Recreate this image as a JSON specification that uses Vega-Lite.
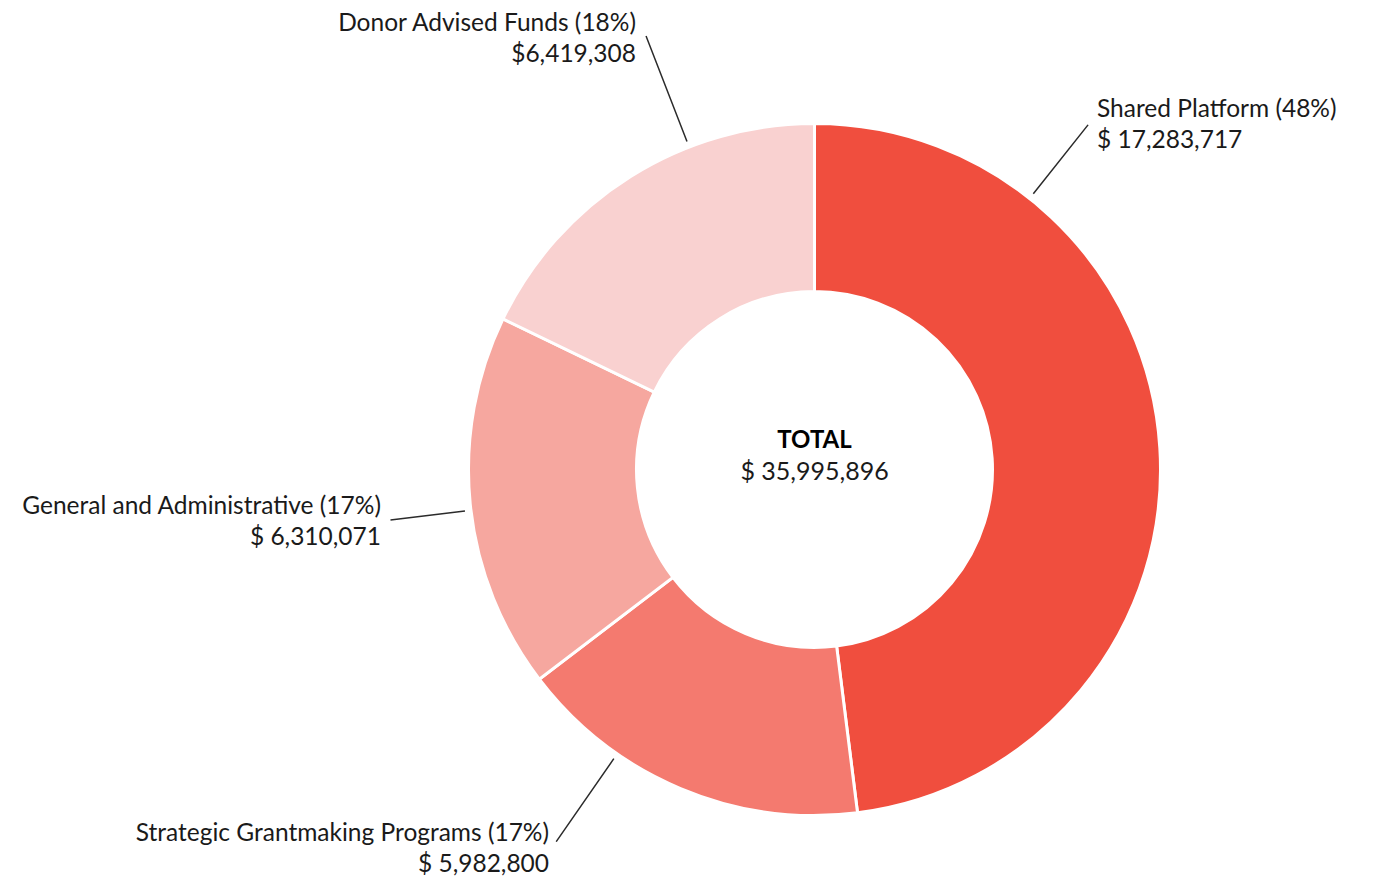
{
  "$schema": "https://vega.github.io/schema/vega-lite/v6.json",
  "width": 1123,
  "height": 825,
  "autosize": {"type": "none"},
  "padding": {"left": 253, "top": 57, "right": 0, "bottom": 0},
  "background": "white",
  "config": {"view": {"stroke": null}, "font": "Lato", "text": {"font": "Lato"}},
  "data": {
    "values": [
      {"category": "Shared Platform", "value": 17283717, "label": "Shared Platform (48%)\n$ 17,283,717"},
      {"category": "Strategic Grantmaking Programs", "value": 5982800, "label": "Strategic Grantmaking Programs (17%)\n$ 5,982,800"},
      {"category": "General and Administrative", "value": 6310071, "label": "General and Administrative (17%)\n$ 6,310,071"},
      {"category": "Donor Advised Funds", "value": 6419308, "label": "Donor Advised Funds (18%)\n$6,419,308"}
    ]
  },
  "transform": [
    {"window": [{"op": "row_number", "as": "order"}]},
    {"stack": "value", "groupby": [], "sort": [{"field": "order", "order": "ascending"}], "as": ["v0", "v1"]}
  ],
  "layer": [
    {
      "mark": {"type": "arc", "radius": 346, "radius2": 178, "stroke": "white", "strokeWidth": 3},
      "encoding": {
        "theta": {"field": "v1", "type": "quantitative", "stack": null},
        "theta2": {"field": "v0"},
        "color": {
          "field": "category",
          "type": "nominal",
          "scale": {
            "domain": ["Shared Platform", "Strategic Grantmaking Programs", "General and Administrative", "Donor Advised Funds"],
            "range": ["#F04E3E", "#F47A6F", "#F6A79F", "#F9D1D0"]
          },
          "legend": null
        }
      }
    },
    {
      "transform": [{"filter": "datum.category === 'Shared Platform'"}],
      "mark": {"type": "arc", "radius": 440, "radius2": 352, "thetaOffset": 0.6709, "theta2Offset": 0.6709, "fill": "transparent", "stroke": "#2b2b2b", "strokeWidth": 1.5},
      "encoding": {"theta": {"field": "v0", "type": "quantitative", "stack": null}, "theta2": {"field": "v0"}}
    },
    {
      "transform": [{"filter": "datum.category === 'Strategic Grantmaking Programs'"}],
      "mark": {"type": "arc", "radius": 453, "radius2": 352, "thetaOffset": 0.7313, "theta2Offset": 0.7313, "fill": "transparent", "stroke": "#2b2b2b", "strokeWidth": 1.5},
      "encoding": {"theta": {"field": "v0", "type": "quantitative", "stack": null}, "theta2": {"field": "v0"}}
    },
    {
      "transform": [{"filter": "datum.category === 'General and Administrative'"}],
      "mark": {"type": "arc", "radius": 427, "radius2": 352, "thetaOffset": 0.5328, "theta2Offset": 0.5328, "fill": "transparent", "stroke": "#2b2b2b", "strokeWidth": 1.5},
      "encoding": {"theta": {"field": "v0", "type": "quantitative", "stack": null}, "theta2": {"field": "v0"}}
    },
    {
      "transform": [{"filter": "datum.category === 'Donor Advised Funds'"}],
      "mark": {"type": "arc", "radius": 465, "radius2": 352, "thetaOffset": 0.7498, "theta2Offset": 0.7498, "fill": "transparent", "stroke": "#2b2b2b", "strokeWidth": 1.5},
      "encoding": {"theta": {"field": "v0", "type": "quantitative", "stack": null}, "theta2": {"field": "v0"}}
    },
    {
      "transform": [{"filter": "datum.category === 'Shared Platform'"}],
      "mark": {"type": "text", "radius": 451.7, "thetaOffset": 0.6757, "align": "left", "baseline": "alphabetic", "fontSize": 24.5, "lineHeight": 31, "lineBreak": "\n", "color": "#1a1a1a"},
      "encoding": {"theta": {"field": "v0", "type": "quantitative", "stack": null}, "text": {"field": "label"}}
    },
    {
      "transform": [{"filter": "datum.category === 'Strategic Grantmaking Programs'"}],
      "mark": {"type": "text", "radius": 456.6, "thetaOffset": 0.7451, "align": "right", "baseline": "alphabetic", "fontSize": 24.5, "lineHeight": 31, "lineBreak": "\n", "color": "#1a1a1a"},
      "encoding": {"theta": {"field": "v0", "type": "quantitative", "stack": null}, "text": {"field": "label"}}
    },
    {
      "transform": [{"filter": "datum.category === 'General and Administrative'"}],
      "mark": {"type": "text", "radius": 435.8, "thetaOffset": 0.5489, "align": "right", "baseline": "alphabetic", "fontSize": 24.5, "lineHeight": 31, "lineBreak": "\n", "color": "#1a1a1a"},
      "encoding": {"theta": {"field": "v0", "type": "quantitative", "stack": null}, "text": {"field": "label"}}
    },
    {
      "transform": [{"filter": "datum.category === 'Donor Advised Funds'"}],
      "mark": {"type": "text", "radius": 473.4, "thetaOffset": 0.7339, "align": "right", "baseline": "alphabetic", "fontSize": 24.5, "lineHeight": 31, "lineBreak": "\n", "color": "#1a1a1a"},
      "encoding": {"theta": {"field": "v0", "type": "quantitative", "stack": null}, "text": {"field": "label"}}
    },
    {
      "transform": [{"aggregate": [{"op": "sum", "field": "value", "as": "total"}]}],
      "mark": {"type": "text", "text": "TOTAL", "fontWeight": "bold", "fontSize": 24, "dy": -22, "align": "center", "baseline": "alphabetic", "color": "#000000"},
      "encoding": {}
    },
    {
      "transform": [{"aggregate": [{"op": "sum", "field": "value", "as": "total"}]}],
      "mark": {"type": "text", "text": "$ 35,995,896", "fontSize": 25, "dy": 10.5, "align": "center", "baseline": "alphabetic", "color": "#1a1a1a"},
      "encoding": {}
    }
  ]
}
